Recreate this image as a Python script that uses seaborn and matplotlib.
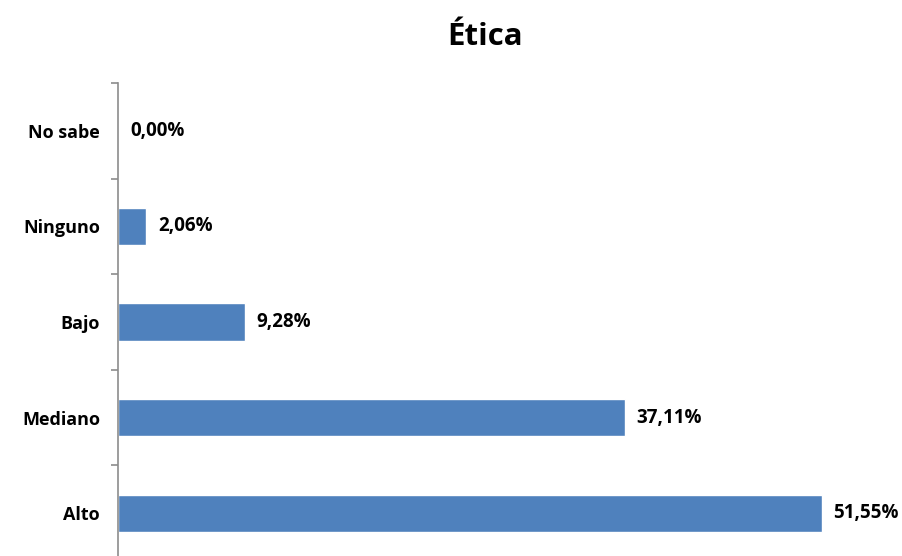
import numpy as np
import pandas as pd
import matplotlib.pyplot as plt
import seaborn as sns
from matplotlib.ticker import FixedLocator

categories = ["No sabe", "Ninguno", "Bajo", "Mediano", "Alto"]
values = [0.00, 2.06, 9.28, 37.11, 51.55]
value_labels = ["0,00%", "2,06%", "9,28%", "37,11%", "51,55%"]

df = pd.DataFrame({"categoria": categories, "valor": values})

sns.set_theme(style="white")
plt.rcParams['font.family'] = ['Open Sans', 'DejaVu Sans']
plt.rcParams['text.color'] = 'black'
plt.rcParams['ytick.labelcolor'] = 'black'

fig = plt.figure(figsize=(9.03, 5.56), dpi=100)
# axes runs a little past the bottom of the figure, like the original
ax = fig.add_axes([118 / 903, 1 - 561 / 556, (896 - 118) / 903, (561 - 83) / 556])

sns.barplot(data=df, x="valor", y="categoria", order=categories, orient="h",
            color="#4F81BD", saturation=1, width=0.39, ax=ax)

ax.set_xlim(0, 57)
ax.set_ylim(len(categories) - 0.5, -0.5)

# value labels
for i, (v, lab) in enumerate(zip(values, value_labels)):
    ax.annotate(lab, xy=(v, i), xytext=(12, 0), textcoords="offset pixels",
                ha="left", va="center", fontsize=13.5, fontweight="bold", color="black")

# axis styling
for s in ["top", "right", "bottom"]:
    ax.spines[s].set_visible(False)
ax.spines["left"].set_color("#8C8C8C")
ax.spines["left"].set_linewidth(1.2)
ax.set_xticks([])
ax.set_xlabel("")
ax.set_ylabel("")

ax.yaxis.set_minor_locator(FixedLocator(np.arange(-0.5, len(categories) + 0.5, 1)))
ax.tick_params(axis="y", which="minor", left=True, length=5, width=1.2, color="#8C8C8C")
ax.tick_params(axis="y", which="major", left=False, length=0, pad=13,
               labelsize=13, labelcolor="black")
for t in ax.get_yticklabels():
    t.set_fontweight("bold")

fig.text(485 / 903, 1 - 37 / 556, "Ética", ha="center", va="center",
         fontsize=22.5, fontweight="bold")

fig.savefig("out.png", dpi=100)
